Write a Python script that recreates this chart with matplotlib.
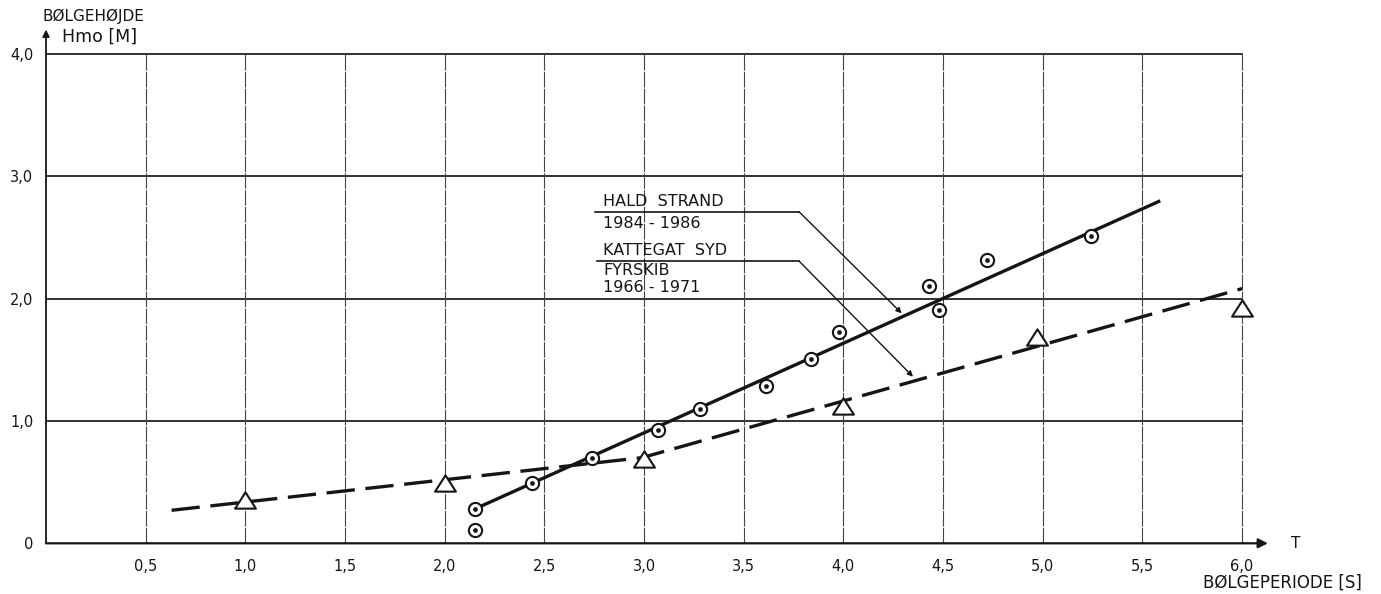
import matplotlib
matplotlib.use("Agg")
import matplotlib.pyplot as plt
from matplotlib.path import Path

# ---- data ----
x_ticks = [0.5, 1.0, 1.5, 2.0, 2.5, 3.0, 3.5, 4.0, 4.5, 5.0, 5.5, 6.0]
x_tick_labels = ["0,5", "1,0", "1,5", "2,0", "2,5", "3,0", "3,5", "4,0", "4,5", "5,0", "5,5", "6,0"]
y_ticks = [0, 1, 2, 3, 4]
y_tick_labels = ["0", "1,0", "2,0", "3,0", "4,0"]

hald_T = [2.15, 2.15, 2.44, 2.74, 3.07, 3.28, 3.61, 3.84, 3.98, 4.43, 4.48, 4.72, 5.24]
hald_H = [0.28, 0.11, 0.49, 0.70, 0.93, 1.10, 1.29, 1.51, 1.73, 2.10, 1.91, 2.32, 2.51]
hald_fit_T = [2.15, 5.59]
hald_fit_H = [0.28, 2.80]

katt_T = [1.0, 2.0, 3.0, 4.0, 4.97, 6.0]
katt_H = [0.35, 0.49, 0.69, 1.12, 1.69, 1.92]
katt_fit_T = [0.63, 2.99, 6.04]
katt_fit_H = [0.27, 0.70, 2.10]

W, H = 1381, 594
fig = plt.figure(figsize=(W / 100, H / 100), dpi=100)
fig.patch.set_facecolor("white")

x0, x1 = 46, 1242
y0, y1 = 543.3, 54
ax = fig.add_axes([x0 / W, 1 - y0 / H, (x1 - x0) / W, (y0 - y1) / H])
ax.set_xlim(0, 6)
ax.set_ylim(0, 4)
for s in ax.spines.values():
    s.set_visible(False)

ink = "#151515"
ax.set_xticks(x_ticks)
ax.set_xticklabels(x_tick_labels)
ax.set_yticks(y_ticks)
ax.set_yticklabels(y_tick_labels)
ax.tick_params(axis="both", length=0, labelsize=10.5, colors=ink)
ax.tick_params(axis="x", pad=11)
ax.tick_params(axis="y", pad=9)

# grid
for yv in y_ticks[1:]:
    ax.axhline(yv, color="#222222", lw=1.3, zorder=1, clip_on=False)
for xv in x_ticks:
    ax.axvline(xv, color="#444444", lw=0.8, ls=(0, (14, 1.2)), zorder=1, clip_on=False)

# axes with arrows
ax.annotate("", xy=(6.13, 0), xytext=(0, 0), xycoords="data",
            arrowprops=dict(arrowstyle="-|>", lw=1.6, color=ink,
                            mutation_scale=14, shrinkA=0, shrinkB=0),
            annotation_clip=False, zorder=2)
ax.annotate("", xy=(0, 4.2), xytext=(0, 0), xycoords="data",
            arrowprops=dict(arrowstyle="-|>", lw=1.3, color=ink,
                            mutation_scale=10, shrinkA=0, shrinkB=0),
            annotation_clip=False, zorder=2)
ax.text(6.27, 0.0, "T", fontsize=11, va="center", ha="center", color=ink, clip_on=False)

# fitted lines
ax.plot(hald_fit_T, hald_fit_H, color=ink, lw=2.4, solid_capstyle="butt", zorder=3)
ax.plot(katt_fit_T, katt_fit_H, color=ink, lw=2.4, dashes=(8.5, 3.2), zorder=3)

# markers
tri = Path([(-1, -0.78), (1, -0.78), (0, 0.78), (-1, -0.78)],
           [Path.MOVETO, Path.LINETO, Path.LINETO, Path.CLOSEPOLY])
ax.plot(katt_T, katt_H, ls="none", marker=tri, ms=15, mfc="white", mec=ink,
        mew=1.5, zorder=5, clip_on=False)
ax.plot(hald_T, hald_H, ls="none", marker="o", ms=9.5, mfc="white", mec=ink,
        mew=1.5, zorder=5)
ax.plot(hald_T, hald_H, ls="none", marker="o", ms=3.4, mfc=ink, mec=ink,
        mew=0, zorder=6)

# annotations
def px2d(px, py):
    return ((px - x0) / (x1 - x0) * 6, (y0 - py) / (y0 - y1) * 4)

fs = 11.5
tx = px2d(603, 0)[0]
ax.text(tx, px2d(0, 201.0)[1], "HALD  STRAND", fontsize=fs, va="center", ha="left", color=ink)
ax.text(tx, px2d(0, 223.0)[1], "1984 - 1986", fontsize=fs, va="center", ha="left", color=ink)
ax.text(tx, px2d(0, 250.5)[1], "KATTEGAT  SYD", fontsize=fs, va="center", ha="left", color=ink)
ax.text(tx, px2d(0, 270.5)[1], "FYRSKIB", fontsize=fs, va="center", ha="left", color=ink)
ax.text(tx, px2d(0, 288.0)[1], "1966 - 1971", fontsize=fs, va="center", ha="left", color=ink)

a1 = px2d(595, 211.7); b1 = px2d(799, 211.7); c1 = px2d(901.7, 313.3)
ax.plot([a1[0], b1[0]], [a1[1], b1[1]], color=ink, lw=1.2, zorder=4)
ax.annotate("", xy=c1, xytext=b1,
            arrowprops=dict(arrowstyle="-|>", lw=1.0, color=ink,
                            mutation_scale=8, shrinkA=0, shrinkB=0), zorder=4)
a2 = px2d(597, 261); b2 = px2d(799, 261); c2 = px2d(913, 376.7)
ax.plot([a2[0], b2[0]], [a2[1], b2[1]], color=ink, lw=1.2, zorder=4)
ax.annotate("", xy=c2, xytext=b2,
            arrowprops=dict(arrowstyle="-|>", lw=1.0, color=ink,
                            mutation_scale=8, shrinkA=0, shrinkB=0), zorder=4)

# outside labels
fig.text(43 / W, 1 - 16 / H, "BØLGEHØJDE", fontsize=11, va="center", ha="left", color=ink)
fig.text(62 / W, 1 - 37 / H, "Hmo [M]", fontsize=12.5, va="center", ha="left", color=ink)
fig.text(1362 / W, 1 - 583 / H, "BØLGEPERIODE [S]", fontsize=12, va="center", ha="right", color=ink)

fig.savefig("out.png", dpi=100, facecolor="white")
